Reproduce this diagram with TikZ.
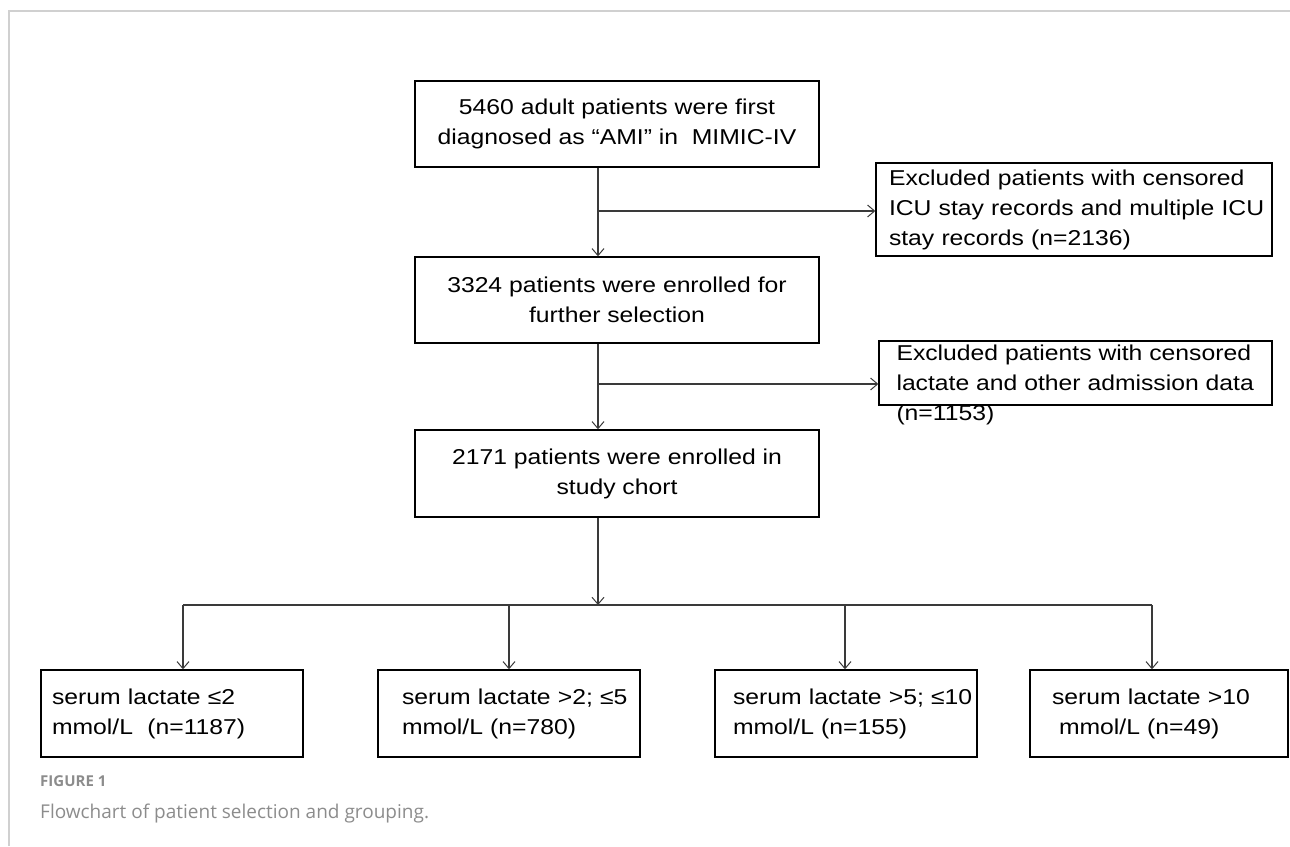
\documentclass[tikz,border=0pt]{standalone}
\usepackage{fontspec}
\usetikzlibrary{arrows.meta,calc}
\newfontfamily\boxfont[FakeStretch=1.15]{Liberation Sans}
\newfontfamily\capfont{Open Sans}
\definecolor{capgray}{HTML}{8C8C8C}
\definecolor{framegray}{HTML}{D0D0D0}
\definecolor{linegray}{HTML}{3A3A3A}
\newcommand\pd[1]{\hspace*{#1pt}}
\begin{document}
\begin{tikzpicture}[x=1pt,y=1pt,
  box/.style={draw=black, line width=1.4pt, inner sep=0pt,
    font=\boxfont\fontsize{21.5}{30}\selectfont, align=center},
  lbox/.style={box, align=left},
  txt/.style={inner sep=0pt, font=\boxfont\fontsize{21.5}{30}\selectfont, align=left},
  arr/.style={draw=linegray, line width=1.1pt,
    -{Straight Barb[length=7pt,width=12pt,line width=1pt]}},
  ln/.style={draw=linegray, line width=1.1pt}]
\useasboundingbox (0,0) rectangle (1290,-846);
\draw[framegray, line width=1.6pt] (9,-846) -- (9,-11) -- (1290,-11);

% main column
\node[box, minimum width=404pt, minimum height=86pt] (b1) at (617,-124)
  {5460 adult patients were first\\diagnosed as “AMI” in\ \ MIMIC-IV};
\node[box, minimum width=404pt, minimum height=86pt] (b2) at (617,-300)
  {3324 patients were enrolled for\\further selection};
\node[box, minimum width=404pt, minimum height=87pt] (b3) at (617,-473.5)
  {2171 patients were enrolled in\\study chort};

% exclusion boxes
\node[lbox, text width=396pt, minimum height=93pt] (e1) at (1074,-209.5)
  {\pd{13}Excluded patients with censored\\\pd{13}ICU stay records and multiple ICU\\\pd{13}stay records (n=2136)};
\node[box, minimum width=393pt, minimum height=64pt] (e2) at (1075.5,-373) {};
\node[txt, anchor=north west] (e2t) at ($(e2.north west)+(18,-4)$)
  {Excluded patients with censored\\lactate and other admission data\\(n=1153)};

% group boxes
\node[lbox, text width=262pt, minimum height=87pt] (g1) at (172,-713.5)
  {\pd{11}serum lactate ≤2\\\pd{11}mmol/L\ \ (n=1187)};
\node[lbox, text width=262pt, minimum height=87pt] (g2) at (509,-713.5)
  {\pd{24}serum lactate >2; ≤5\\\pd{24}mmol/L (n=780)};
\node[lbox, text width=262pt, minimum height=87pt] (g3) at (846,-713.5)
  {\pd{18}serum lactate >5; ≤10\\\pd{18}mmol/L (n=155)};
\node[lbox, text width=258pt, minimum height=87pt] (g4) at (1159,-713.5)
  {\pd{22}serum lactate >10\\\pd{29}mmol/L (n=49)};

% connectors
\coordinate (sx) at (598,0);
\coordinate (k1) at (598,-211);
\coordinate (k2) at (598,-384);
\coordinate (k3) at (598,-605);
\draw[arr] (sx |- b1.south) -- (sx |- b2.north);
\draw[arr] (k1) -- (k1 -| e1.west);
\draw[arr] (sx |- b2.south) -- (sx |- b3.north);
\draw[arr] (k2) -- (k2 -| e2.west);
\draw[arr] (sx |- b3.south) -- (k3);

\coordinate (h1) at (183,-605);
\coordinate (h2) at (509,-605);
\coordinate (h3) at (845,-605);
\coordinate (h4) at (1152,-605);
\draw[ln] (h1) -- (h4);
\draw[arr] (h1) -- (h1 |- g1.north);
\draw[arr] (h2) -- (h2 |- g2.north);
\draw[arr] (h3) -- (h3 |- g3.north);
\draw[arr] (h4) -- (h4 |- g4.north);

% caption
\node[anchor=west, inner sep=0pt, text=capgray, font=\capfont\bfseries\fontsize{15}{17}\selectfont] (cap1) at (40,-781) {FIGURE 1};
\node[anchor=west, inner sep=0pt, text=capgray, font=\capfont\fontsize{19}{23}\selectfont] (cap2) at (40,-814) {Flowchart of patient selection and grouping.};
\end{tikzpicture}
\end{document}
